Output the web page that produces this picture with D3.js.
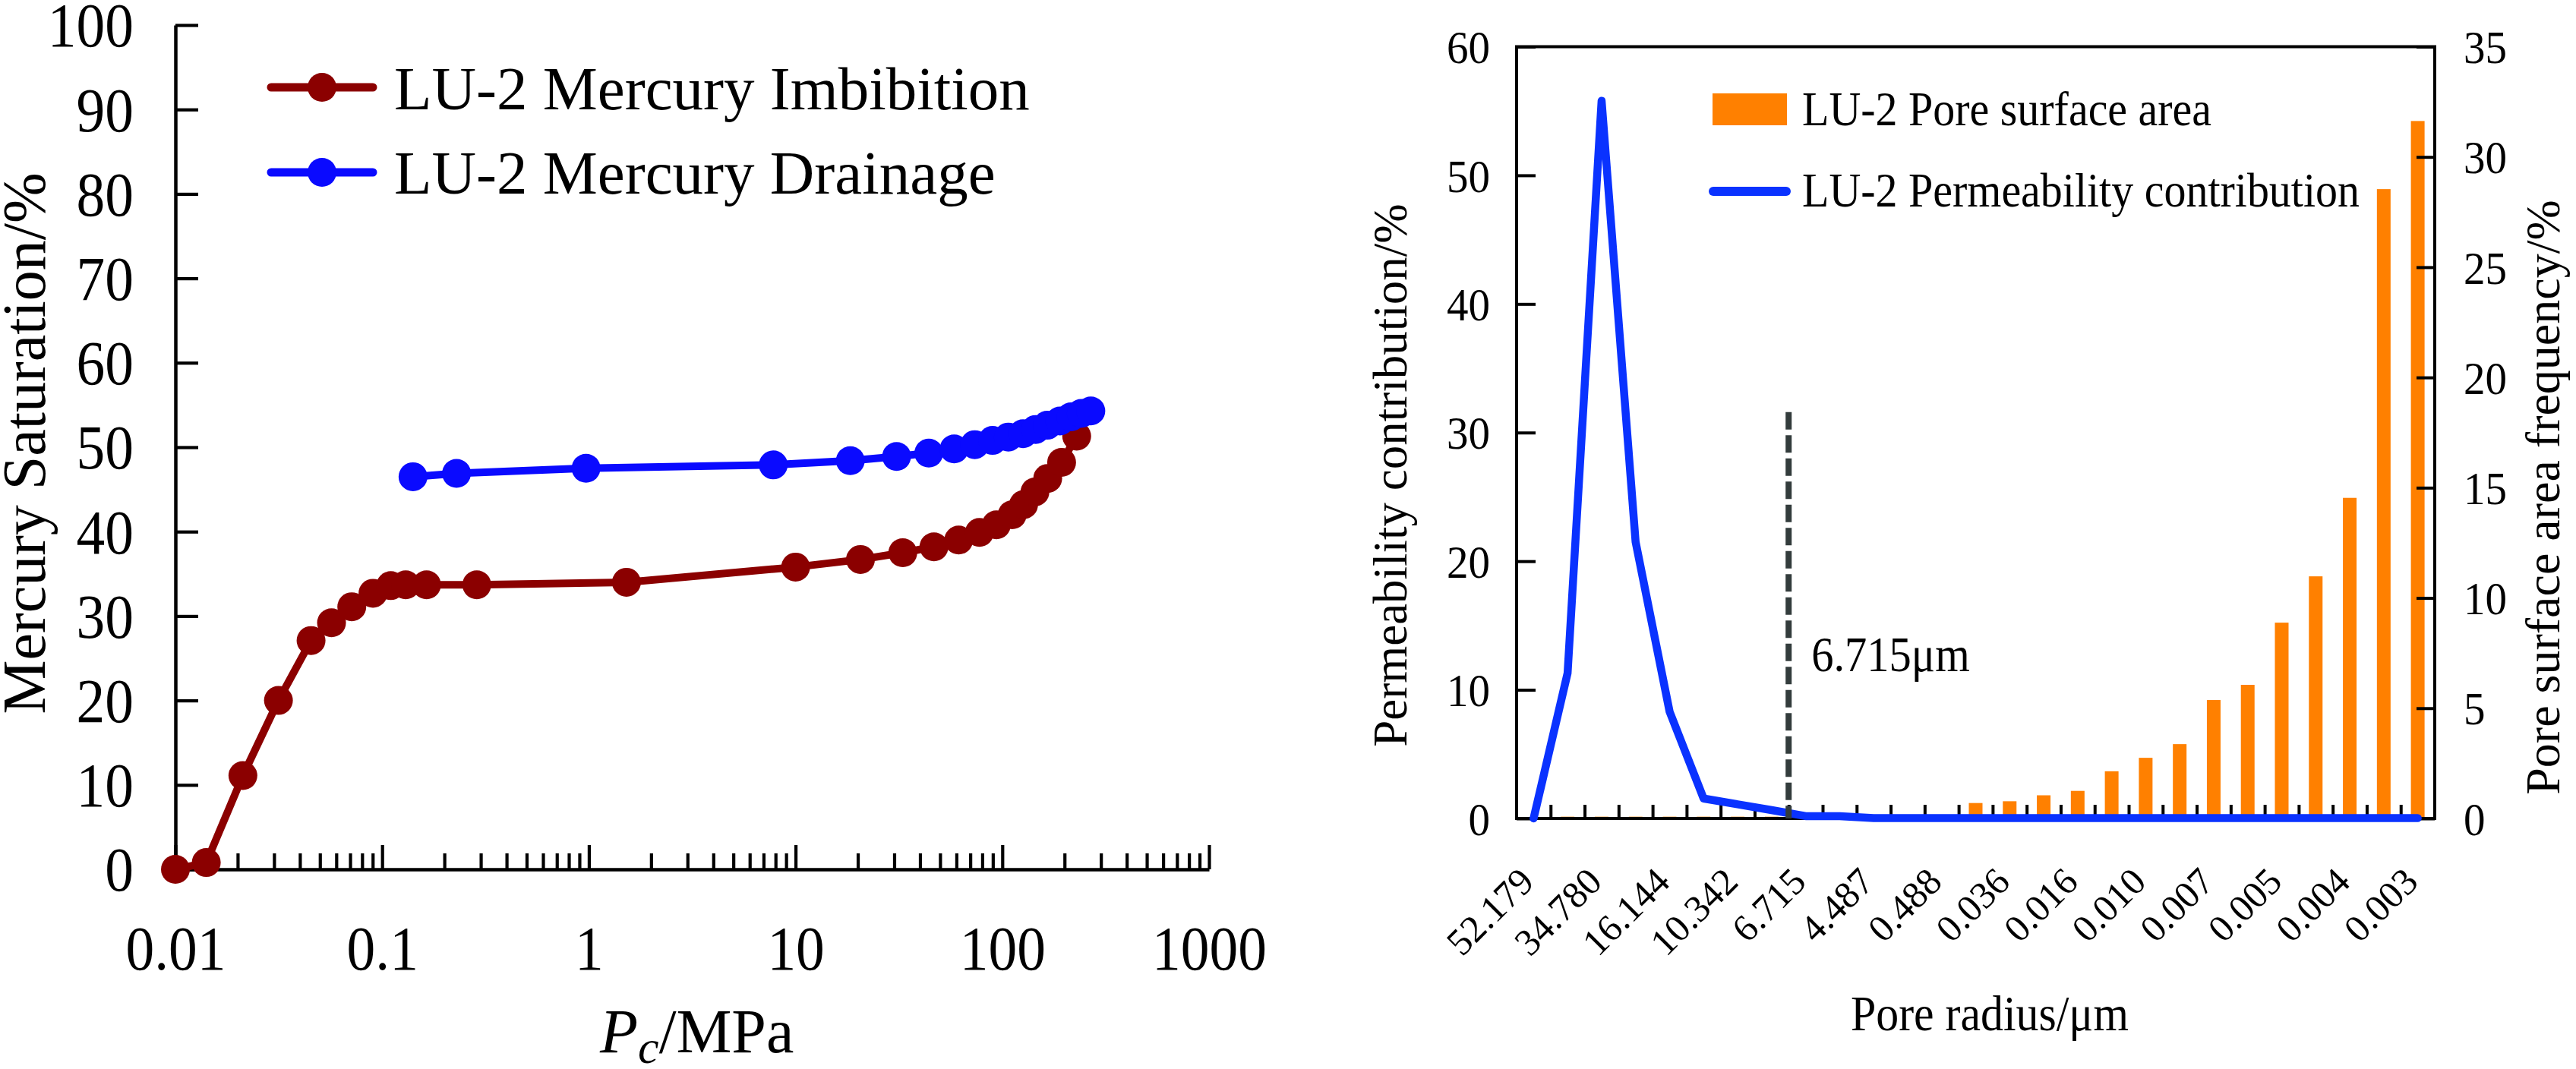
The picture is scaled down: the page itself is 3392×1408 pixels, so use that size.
<!DOCTYPE html>
<html>
<head>
<meta charset="utf-8">
<script src="https://cdn.jsdelivr.net/npm/d3@7"></script>
<style>
  html, body { margin: 0; padding: 0; background: #ffffff; }
  svg { display: block; }
  text { font-family: "Liberation Serif", "Times New Roman", serif; fill: #000; }
</style>
</head>
<body>
<script>
// ---------------- DATA ----------------
// Left panel: capillary pressure curve
const imbibitionPc  = [0.01, 0.0141, 0.0212, 0.0315, 0.0453, 0.0569, 0.0713, 0.0903, 0.110, 0.130, 0.164, 0.287, 1.52, 10.0, 20.6, 33.0, 46.7, 61.5, 77.5, 93.6, 111.6, 126.8, 143.8, 165.8, 193.6, 229];
const imbibitionSat = [0, 0.8, 11.1, 20.0, 27.1, 29.2, 31.1, 32.7, 33.6, 33.7, 33.7, 33.7, 34.0, 35.8, 36.7, 37.5, 38.2, 39.0, 39.9, 40.8, 42.0, 43.2, 44.7, 46.3, 48.2, 51.3];
const drainagePc    = [0.141, 0.229, 0.969, 7.80, 18.4, 30.8, 44.1, 58.5, 73.6, 89.7, 107, 126, 145, 165, 190, 215, 241, 268];
const drainageSat   = [46.5, 46.9, 47.5, 47.9, 48.4, 48.9, 49.3, 49.8, 50.3, 50.8, 51.2, 51.6, 52.1, 52.6, 53.1, 53.6, 54.0, 54.3];
const seriesNamesLeft = ["LU-2 Mercury Imbibition", "LU-2 Mercury Drainage"];
const leftYTicks = [0, 10, 20, 30, 40, 50, 60, 70, 80, 90, 100];
const leftXTicks = [0.01, 0.1, 1, 10, 100, 1000];

// Right panel: pore radius distribution (27 classes, every other one labelled)
const poreRadiusLabels = ["52.179", "34.780", "16.144", "10.342", "6.715", "4.487", "0.488", "0.036", "0.016", "0.010", "0.007", "0.005", "0.004", "0.003"];
const surfaceArea  = [0, 0.08, 0.08, 0.08, 0.08, 0.08, 0.08, 0.08, 0, 0, 0, 0, 0, 0.70, 0.78, 1.05, 1.25, 2.14, 2.75, 3.37, 5.37, 6.06, 8.88, 10.98, 14.54, 28.54, 31.63];
const permeability = [0, 11.3, 55.8, 21.5, 8.3, 1.55, 1.1, 0.65, 0.18, 0.18, 0.03, 0.03, 0.03, 0.03, 0.03, 0.03, 0.03, 0.03, 0.03, 0.03, 0.03, 0.03, 0.03, 0.03, 0.03, 0.03, 0.03];
const seriesNamesRight = ["LU-2 Pore surface area", "LU-2 Permeability contribution"];
const rightLeftTicks  = [0, 10, 20, 30, 40, 50, 60];
const rightRightTicks = [0, 5, 10, 15, 20, 25, 30, 35];
const cutoffBoundary = 8;          // class boundary where the cutoff line sits
const cutoffTop = 31.6;            // height of cutoff line (left axis units)
const cutoffLabel = "6.715\u03bcm";

// ---------------- HELPERS ----------------
function squeeze(sel, f) {
  sel.each(function () {
    const L = this.getComputedTextLength();
    d3.select(this).attr("textLength", L * f).attr("lengthAdjust", "spacingAndGlyphs");
  });
}

const svg = d3.select("body").append("svg")
  .attr("width", 3392).attr("height", 1408);
svg.append("rect").attr("width", 3392).attr("height", 1408).attr("fill", "#fff");

// ================= LEFT PANEL =================
const xL = d3.scaleLog().domain([0.01, 1000]).range([231, 1592]);
const yL = d3.scaleLinear().domain([0, 100]).range([1145, 33]);

// minor ticks on log axis
const minorVals = [];
[0.01, 0.1, 1, 10, 100].forEach(d => { for (let k = 2; k <= 9; k++) minorVals.push(d * k); });

const gMinor = svg.append("g").attr("transform", `translate(0,${yL(0)})`)
  .call(d3.axisBottom(xL).tickValues(minorVals).tickSizeInner(-21).tickSizeOuter(0).tickFormat(""));
gMinor.select(".domain").remove();
gMinor.selectAll("line").attr("stroke", "#000").attr("stroke-width", 4.2);

const gXL = svg.append("g").attr("transform", `translate(0,${yL(0)})`)
  .call(d3.axisBottom(xL).tickValues(leftXTicks).tickSizeInner(-32).tickSizeOuter(0)
    .tickFormat(d => String(d)));
gXL.select(".domain").attr("stroke", "#000").attr("stroke-width", 4.5);
gXL.selectAll("line").attr("stroke", "#000").attr("stroke-width", 4.2);
gXL.selectAll("text").attr("y", 132).attr("dy", 0).attr("font-size", 82)
  .attr("font-family", "Liberation Serif").call(squeeze, 0.92);

const gYL = svg.append("g").attr("transform", `translate(${xL(0.01)},0)`)
  .call(d3.axisLeft(yL).tickValues(leftYTicks).tickSizeInner(-30).tickSizeOuter(0));
gYL.select(".domain").attr("stroke", "#000").attr("stroke-width", 4.5);
gYL.selectAll("line").attr("stroke", "#000").attr("stroke-width", 4.2);
gYL.selectAll("text").attr("x", -55).attr("dy", "0.34em").attr("font-size", 82)
  .attr("font-family", "Liberation Serif").call(squeeze, 0.92);

// axis titles
svg.append("text").attr("transform", "translate(59,584) rotate(-90)")
  .attr("text-anchor", "middle").attr("font-size", 80).text("Mercury Saturation/%");

const pcTitle = svg.append("text").attr("x", 790).attr("y", 1386).attr("font-size", 82);
pcTitle.append("tspan").attr("font-style", "italic").text("P");
pcTitle.append("tspan").attr("font-style", "italic").attr("font-size", 62).attr("dy", 14).text("c");
pcTitle.append("tspan").attr("dy", -14).text("/MPa");

// series
const imb = imbibitionPc.map((p, i) => [p, imbibitionSat[i]]);
const drn = drainagePc.map((p, i) => [p, drainageSat[i]]);
const lineL = d3.line().x(d => xL(d[0])).y(d => yL(d[1]));
const redC = "#8B0000", blueC = "#0A0AFF";

svg.append("path").datum(imb).attr("d", lineL).attr("fill", "none")
  .attr("stroke", redC).attr("stroke-width", 10).attr("stroke-linejoin", "round");
svg.append("g").selectAll("circle").data(imb).join("circle")
  .attr("cx", d => xL(d[0])).attr("cy", d => yL(d[1])).attr("r", 19).attr("fill", redC);

svg.append("path").datum(drn).attr("d", lineL).attr("fill", "none")
  .attr("stroke", blueC).attr("stroke-width", 10).attr("stroke-linejoin", "round");
svg.append("g").selectAll("circle").data(drn).join("circle")
  .attr("cx", d => xL(d[0])).attr("cy", d => yL(d[1])).attr("r", 19).attr("fill", blueC);

// legend
[[redC, 115, 144], [blueC, 227, 255]].forEach(([c, ly, ty], i) => {
  svg.append("line").attr("x1", 357).attr("x2", 491).attr("y1", ly).attr("y2", ly)
    .attr("stroke", c).attr("stroke-width", 11).attr("stroke-linecap", "round");
  svg.append("circle").attr("cx", 424).attr("cy", ly).attr("r", 19).attr("fill", c);
  svg.append("text").attr("x", 519).attr("y", ty).attr("font-size", 81).text(seriesNamesLeft[i]);
});

// ================= RIGHT PANEL =================
const X0 = 1997, X1 = 3206, YT = 61.5, YB = 1078;
const idx = d3.range(surfaceArea.length);
const xR = d3.scaleBand().domain(idx).range([X0, X1]).padding(0);
const xB = d3.scaleLinear().domain([0, surfaceArea.length]).range([X0, X1]);
const yRL = d3.scaleLinear().domain([0, 60]).range([YB, YT]);
const yRR = d3.scaleLinear().domain([0, 35]).range([YB, YT]);
const bw = xR.bandwidth();
const orange = "#FF8000", permBlue = "#0A32FF";

// bars
svg.append("g").selectAll("rect").data(idx.filter(i => surfaceArea[i] > 0)).join("rect")
  .attr("x", i => xR(i) + bw / 2 - 9).attr("width", 18)
  .attr("y", i => yRR(surfaceArea[i])).attr("height", i => YB - yRR(surfaceArea[i]))
  .attr("fill", orange);

// frame + axes
svg.append("rect").attr("x", X0).attr("y", YT).attr("width", X1 - X0).attr("height", YB - YT)
  .attr("fill", "none").attr("stroke", "#000").attr("stroke-width", 4);

const gRL = svg.append("g").attr("transform", `translate(${X0},0)`)
  .call(d3.axisLeft(yRL).tickValues(rightLeftTicks).tickSizeInner(-25).tickSizeOuter(0));
gRL.select(".domain").remove();
gRL.selectAll("line").attr("stroke", "#000").attr("stroke-width", 4);
gRL.selectAll("text").attr("x", -35).attr("dy", "0.34em").attr("font-size", 62)
  .attr("font-family", "Liberation Serif").call(squeeze, 0.92);

const gRR = svg.append("g").attr("transform", `translate(${X1},0)`)
  .call(d3.axisRight(yRR).tickValues(rightRightTicks).tickSizeInner(-24).tickSizeOuter(0));
gRR.select(".domain").remove();
gRR.selectAll("line").attr("stroke", "#000").attr("stroke-width", 4);
gRR.selectAll("text").attr("x", 38).attr("dy", "0.34em").attr("font-size", 62)
  .attr("font-family", "Liberation Serif").call(squeeze, 0.92);

const gRB = svg.append("g").attr("transform", `translate(0,${YB})`)
  .call(d3.axisBottom(xB).tickValues(d3.range(1, surfaceArea.length)).tickSizeInner(-18)
    .tickSizeOuter(0).tickFormat(""));
gRB.select(".domain").remove();
gRB.selectAll("line").attr("stroke", "#000").attr("stroke-width", 4);

// category labels (every other class)
svg.append("g").selectAll("text").data(poreRadiusLabels).join("text")
  .attr("transform", (d, j) => `translate(${xR(j * 2) + bw / 2 + 3},1164) rotate(-45)`)
  .attr("text-anchor", "end").attr("font-size", 50).text(d => d);

// permeability line
const lineR = d3.line().x((d, i) => xR(i) + bw / 2).y(d => yRL(d));
svg.append("path").datum(permeability).attr("d", lineR).attr("fill", "none")
  .attr("stroke", permBlue).attr("stroke-width", 10.5)
  .attr("stroke-linejoin", "round").attr("stroke-linecap", "round");

// cutoff line
svg.append("line").attr("x1", xB(cutoffBoundary)).attr("x2", xB(cutoffBoundary))
  .attr("y1", yRL(cutoffTop)).attr("y2", YB)
  .attr("stroke", "#333C3C").attr("stroke-width", 8).attr("stroke-dasharray", "23,7.5");
svg.append("text").attr("x", xB(cutoffBoundary) + 30).attr("y", 884).attr("font-size", 65)
  .text(cutoffLabel).call(squeeze, 0.9);

// axis titles
svg.append("text").attr("transform", "translate(1852,626) rotate(-90)")
  .attr("text-anchor", "middle").attr("font-size", 63).text("Permeability contribution/%");
svg.append("text").attr("transform", "translate(3370,655) rotate(-90)")
  .attr("text-anchor", "middle").attr("font-size", 64).text("Pore surface area frequency/%");
svg.append("text").attr("x", 2620).attr("y", 1357).attr("text-anchor", "middle")
  .attr("font-size", 65).text("Pore radius/\u03bcm").call(squeeze, 0.92);

// legend
svg.append("rect").attr("x", 2255).attr("y", 123).attr("width", 98).attr("height", 42).attr("fill", orange);
svg.append("line").attr("x1", 2256).attr("x2", 2352).attr("y1", 252).attr("y2", 252)
  .attr("stroke", permBlue).attr("stroke-width", 12).attr("stroke-linecap", "round");
svg.append("text").attr("x", 2373).attr("y", 165).attr("font-size", 63)
  .text(seriesNamesRight[0]).call(squeeze, 0.92);
svg.append("text").attr("x", 2373).attr("y", 272).attr("font-size", 63)
  .text(seriesNamesRight[1]).call(squeeze, 0.92);
</script>
</body>
</html>
